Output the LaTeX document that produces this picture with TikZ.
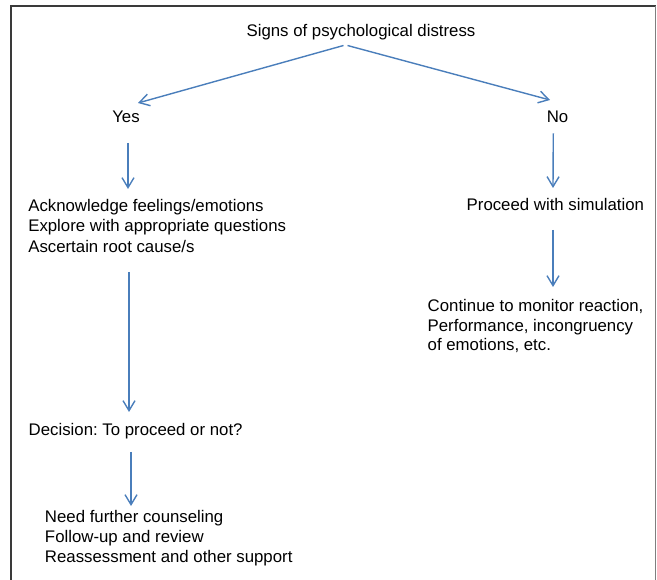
\documentclass[tikz,border=0pt]{standalone}
\usepackage{fontspec}
\setmainfont{Liberation Sans}
\usetikzlibrary{arrows.meta}
\frenchspacing
\definecolor{arrowblue}{HTML}{4A7EBB}
\definecolor{framedark}{HTML}{3A3A3A}
\definecolor{framegray}{HTML}{7F7F7F}
\tikzset{
  txt/.style={inner sep=0pt, outer sep=0pt, font=\frenchspacing\fontsize{16.8}{20.6}\selectfont, text=black},
  blk/.style={txt, align=left, anchor=north west},
  arr/.style={draw=arrowblue, line width=1.4pt, -{Straight Barb[length=10pt,width=12pt]}},
}
\begin{document}
\begin{tikzpicture}[x=1pt,y=-1pt]
\useasboundingbox (0,0) rectangle (657,580);
% frame
\draw[framedark, line width=1.2pt] (11,580) -- (11,6) -- (655.5,6);
\draw[framegray, line width=1.2pt] (655.5,6) -- (655.5,580);
% nodes
\node[txt, anchor=base] (top) at (361,36.5) {Signs of psychological distress};
\node[txt, anchor=base] (yes) at (126,122.5) {Yes};
\node[txt, anchor=base] (no) at (557.5,122.5) {No};
\node[blk] (ack) at (28.3,199) {Acknowledge feelings/emotions\\Explore with appropriate questions\\Ascertain root cause/s};
\node[txt, anchor=base west] (dec) at (28.7,436) {Decision: To proceed or not?};
\node[blk, font=\frenchspacing\fontsize{16.8}{19.8}\selectfont] (need) at (45,510.3) {Need further counseling\\Follow-up and review\\Reassessment and other support};
\node[txt, anchor=base west] (proc) at (466.7,211) {Proceed with simulation};
\node[blk, font=\frenchspacing\fontsize{16.8}{19.4}\selectfont] (cont) at (427.7,299.7) {Continue to monitor reaction,\\Performance, incongruency\\of emotions, etc.};
% connectors
\draw[arr] ([shift={(-17.5,9)}]top.base) -- ([shift={(12,-19.5)}]yes.base);
\draw[arr] ([shift={(-13.5,9)}]top.base) -- ([shift={(-7.5,-22.5)}]no.base);
\draw[arr] ([shift={(2,20.5)}]yes.base) -- ([shift={(99.7,-10)}]ack.north west);
\draw[arr] ([shift={(100.7,73)}]ack.north west) -- ([shift={(100.3,-24)}]dec.base west);
\draw[arr] ([shift={(102.3,16)}]dec.base west) -- ([shift={(86,-4.3)}]need.north west);
\draw[arr] ([shift={(-4.2,10.8)}]no.base) -- ([shift={(86.3,-23)}]proc.base west);
\draw[arr] ([shift={(86.3,19)}]proc.base west) -- ([shift={(125.3,-12.7)}]cont.north west);
\end{tikzpicture}
\end{document}
